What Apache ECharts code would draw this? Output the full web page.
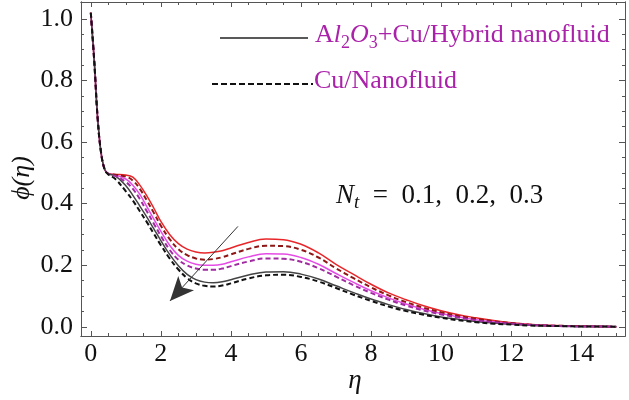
<!DOCTYPE html>
<html>
<head>
<meta charset="utf-8">
<script src="https://cdn.jsdelivr.net/npm/echarts@6/dist/echarts.min.js"></script>
<style>html,body{margin:0;padding:0;background:#fff;}#c{width:629px;height:400px;}</style>
</head>
<body>
<div id="c"></div>
<script>
// ---- data ----
const eta = [0,0.1,0.2,0.3,0.4,0.5,0.7,1.0,1.2,1.4,1.6,1.8,2.0,2.25,2.5,2.75,3.0,3.25,3.5,3.75,4.0,4.5,5.0,5.5,6.0,6.5,7.0,7.5,8.0,8.5,9.0,9.5,10,10.5,11,11.5,12,12.5,13,13.5,14,14.5,15];
const hybridNt03 = [1.02,0.86,0.67,0.56,0.51,0.497,0.495,0.493,0.486,0.46,0.425,0.385,0.342,0.30,0.27,0.252,0.243,0.240,0.242,0.247,0.256,0.274,0.285,0.283,0.268,0.240,0.203,0.170,0.138,0.110,0.088,0.068,0.052,0.039,0.029,0.020,0.013,0.008,0.005,0.003,0.002,0.001,0.0];
const nanoNt03   = [1.02,0.86,0.67,0.56,0.51,0.497,0.494,0.488,0.475,0.448,0.41,0.37,0.328,0.285,0.252,0.233,0.222,0.218,0.220,0.226,0.235,0.253,0.263,0.262,0.250,0.225,0.190,0.158,0.128,0.102,0.080,0.062,0.047,0.035,0.026,0.018,0.012,0.007,0.004,0.003,0.002,0.001,0.0];
const hybridNt02 = [1.02,0.86,0.67,0.56,0.51,0.497,0.493,0.480,0.460,0.430,0.390,0.350,0.310,0.265,0.232,0.213,0.203,0.200,0.200,0.203,0.211,0.227,0.237,0.236,0.225,0.203,0.173,0.144,0.117,0.094,0.074,0.057,0.043,0.032,0.023,0.016,0.011,0.007,0.004,0.003,0.002,0.001,0.0];
const nanoNt02   = [1.02,0.86,0.67,0.56,0.51,0.497,0.490,0.470,0.448,0.415,0.375,0.335,0.295,0.250,0.218,0.199,0.189,0.185,0.185,0.189,0.197,0.212,0.222,0.221,0.211,0.190,0.163,0.135,0.110,0.088,0.069,0.053,0.040,0.030,0.021,0.015,0.010,0.006,0.004,0.002,0.001,0.001,0.0];
const hybridNt01 = [1.02,0.86,0.67,0.56,0.51,0.497,0.490,0.458,0.427,0.392,0.356,0.318,0.280,0.235,0.198,0.170,0.153,0.145,0.143,0.146,0.153,0.168,0.178,0.179,0.171,0.155,0.133,0.111,0.090,0.072,0.056,0.043,0.032,0.024,0.017,0.012,0.008,0.005,0.003,0.002,0.001,0.001,0.0];
const nanoNt01   = [1.02,0.86,0.67,0.56,0.51,0.495,0.480,0.440,0.410,0.375,0.340,0.302,0.265,0.222,0.186,0.158,0.141,0.133,0.131,0.134,0.141,0.157,0.167,0.169,0.162,0.147,0.126,0.104,0.084,0.066,0.051,0.039,0.029,0.021,0.015,0.010,0.007,0.004,0.003,0.002,0.001,0.001,0.0];
const xMajorTicks = [0,2,4,6,8,10,12,14];
const xMinorTicks = [0.5,1,1.5,2.5,3,3.5,4.5,5,5.5,6.5,7,7.5,8.5,9,9.5,10.5,11,11.5,12.5,13,13.5,14.5,15];
const yMajorTicks = [0,0.2,0.4,0.6,0.8,1.0];
const yMinorTicks = [0.05,0.1,0.15,0.25,0.3,0.35,0.45,0.5,0.55,0.65,0.7,0.75,0.85,0.9,0.95];
const arrowFrom = [4.2, 0.326];
const arrowTo = [2.26, 0.084];

const pairs = v => eta.map((x,i)=>[x, v[i]]);
const FONT = '"Liberation Serif","DejaVu Serif",serif';
const frameColor = '#555';
const xMin = -0.28, xMax = 15.25, yMin = -0.03, yMax = 1.055;

function xAx(pos, ticks, len, labels){
  return {type:'value', position:pos, min:xMin, max:xMax,
    axisLine:{show:true, onZero:false, lineStyle:{color:frameColor,width:1}},
    axisTick:{show:true, inside:true, length:len, customValues:ticks, lineStyle:{color:frameColor}},
    axisLabel:{show:labels, customValues:ticks, fontFamily:FONT, fontSize:26, color:'#111', margin:5},
    splitLine:{show:false}};
}
function yAx(pos, ticks, len, labels){
  return {type:'value', position:pos, min:yMin, max:yMax,
    axisLine:{show:true, onZero:false, lineStyle:{color:frameColor,width:1}},
    axisTick:{show:true, inside:true, length:len, customValues:ticks, lineStyle:{color:frameColor}},
    axisLabel:{show:labels, customValues:ticks, fontFamily:FONT, fontSize:26, color:'#111', margin:8,
      formatter:v=>v.toFixed(1)},
    splitLine:{show:false}};
}

function line(name, v, color, dashed, width){
  return {type:'line', name, data:pairs(v), showSymbol:false, smooth:0.4, symbol:'none',
    lineStyle:{color, width, type: dashed ? [5,3] : 'solid'}, z: dashed?3:2, animation:false};
}

const series = [
  line('hyb03', hybridNt03, '#e8262a', false, 1.5),
  line('nano03', nanoNt03, '#8e1616', true, 2),
  line('hyb02', hybridNt02, '#e54ce5', false, 1.5),
  line('nano02', nanoNt02, '#a02aa0', true, 2),
  line('hyb01', hybridNt01, '#444', false, 1.5),
  line('nano01', nanoNt01, '#111', true, 2)
];
series.push({type:'line', data:[], xAxisIndex:0, yAxisIndex:0,
  markLine:{silent:true, animation:false, symbol:['none','arrow'], symbolSize:[16,24],
    label:{show:false}, lineStyle:{color:'#333', width:1, type:'solid'},
    data:[[{coord:arrowFrom},{coord:arrowTo}]]}});

const chart = echarts.init(document.getElementById('c'), null, {renderer:'canvas'});
chart.setOption({
  animation:false,
  backgroundColor:'#fff',
  grid:{left:81, right:4, top:2, bottom:64},
  xAxis:[xAx('bottom', xMajorTicks, 5, true), xAx('bottom', xMinorTicks, 3, false),
         xAx('top', xMajorTicks, 5, false), xAx('top', xMinorTicks, 3, false)],
  yAxis:[yAx('left', yMajorTicks, 6, true), yAx('left', yMinorTicks, 3, false),
         yAx('right', yMajorTicks, 6, false), yAx('right', yMinorTicks, 3, false)],
  series,
  graphic:[
    {type:'line', shape:{x1:220,y1:38,x2:308,y2:38}, style:{stroke:'#222', lineWidth:1.5}},
    {type:'text', left:315, top:22, style:{
      text:'{a|A}{i|l}{s|2}{i|O}{s|3}{a|+Cu/Hybrid nanofluid}',
      rich:{
        a:{fontFamily:FONT, fontSize:26, fill:'#aa22aa', lineHeight:34, verticalAlign:'middle'},
        i:{fontFamily:FONT, fontSize:26, fontStyle:'italic', fill:'#aa22aa', lineHeight:34, verticalAlign:'middle'},
        s:{fontFamily:FONT, fontSize:18, fill:'#aa22aa', lineHeight:18, verticalAlign:'bottom'}
      }}},
    {type:'line', shape:{x1:212,y1:84,x2:313,y2:84}, style:{stroke:'#111', lineWidth:2, lineDash:[6,3]}},
    {type:'text', left:314, top:68, style:{text:'Cu/Nanofluid', fontFamily:FONT, fontSize:26, fill:'#aa22aa'}},
    {type:'text', left:336, top:182, style:{
      text:'{i|N}{s|t}{a|  =  0.1,  0.2,  0.3}',
      rich:{
        a:{fontFamily:FONT, fontSize:27, fill:'#111', lineHeight:34, verticalAlign:'middle'},
        i:{fontFamily:FONT, fontSize:27, fontStyle:'italic', fill:'#111', lineHeight:34, verticalAlign:'middle'},
        s:{fontFamily:FONT, fontSize:19, fontStyle:'italic', fill:'#111', lineHeight:19, verticalAlign:'bottom'}
      }}},
    {type:'text', x:22, y:178, rotation:Math.PI/2, style:{text:'\u03d5(\u03b7)', fontFamily:FONT, fontSize:26, fontStyle:'italic', fill:'#111', align:'center', verticalAlign:'middle'}},
    {type:'text', x:355, y:381, style:{text:'\u03b7', fontFamily:FONT, fontSize:27, fontStyle:'italic', fill:'#111', align:'center', verticalAlign:'middle'}}
  ]
});
</script>
</body>
</html>
